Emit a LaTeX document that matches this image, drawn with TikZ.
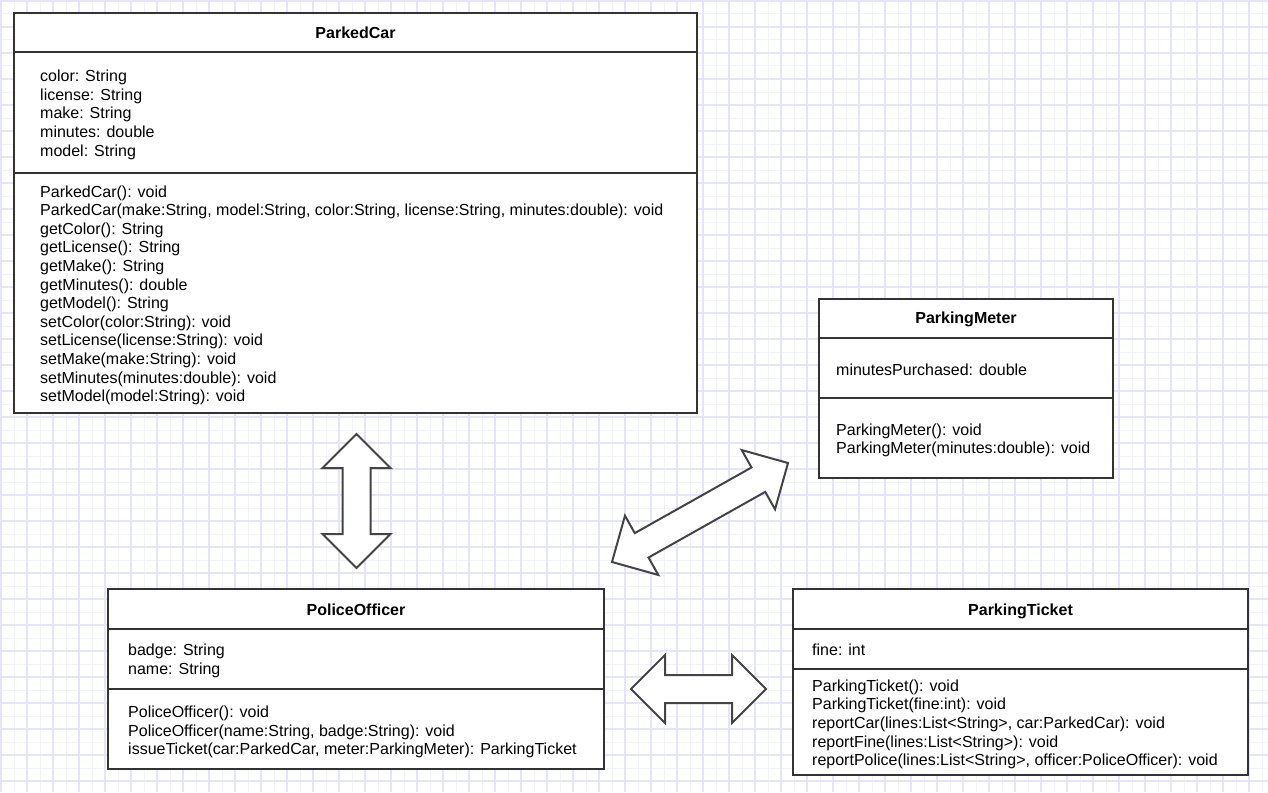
\documentclass[tikz,border=0pt]{standalone}
\usepackage{fontspec}
\setmainfont{Liberation Sans}
\usetikzlibrary{calc}
\definecolor{gridmaj}{RGB}{228,228,252}
\definecolor{gridmin}{RGB}{242,242,253}
\definecolor{boxc}{RGB}{51,51,51}
\definecolor{arrc}{RGB}{68,68,68}
\tikzset{
  clsbox/.style={draw=boxc, line width=2pt, fill=white, anchor=north west, inner sep=0pt, outer sep=0pt},
  sepline/.style={draw=boxc, line width=2pt},
  ttl/.style={font=\bfseries\fontsize{16}{19}\selectfont, anchor=base, inner sep=0pt},
  txt/.style={font=\fontsize{16}{19}\selectfont, anchor=base west, inner sep=0pt},
  blockarrow/.style={draw=arrc, line width=2pt, fill=white, line join=miter},
  majline/.style={draw=gridmaj, line width=1.5pt},
  minline/.style={draw=gridmin, line width=1pt},
}
\newcommand\classlines[5]{%
  \foreach \lineitem [count=\i from 0] in {#5}
    \node[txt] (#1\i) at (#2,#3+\i*#4) {\lineitem};}
\newcommand\blockarrow[2]{%
  \coordinate (#1H) at ($(#1)!34pt!(#2)$);
  \coordinate (#2H) at ($(#2)!34pt!(#1)$);
  \filldraw[blockarrow] (#1) -- ($(#1H)!34pt!90:(#2)$) -- ($(#1H)!14pt!90:(#2)$)
    -- ($(#2H)!14pt!-90:(#1)$) -- ($(#2H)!34pt!-90:(#1)$) -- (#2)
    -- ($(#2H)!34pt!90:(#1)$) -- ($(#2H)!14pt!90:(#1)$)
    -- ($(#1H)!14pt!-90:(#2)$) -- ($(#1H)!34pt!-90:(#2)$) -- cycle;}
\begin{document}
\begin{tikzpicture}[x=1pt,y=-1pt]
\useasboundingbox (0,0) rectangle (1268,792);
\fill[white] (0,0) rectangle (1268,792);
% grid
\foreach \g in {14,40,...,1268} \draw[minline] (\g,0) -- (\g,792);
\foreach \g in {14,40,...,792} \draw[minline] (0,\g) -- (1268,\g);
\foreach \g in {1,27,...,1268} \draw[majline] (\g,0) -- (\g,792);
\foreach \g in {1,27,...,792} \draw[majline] (0,\g) -- (1268,\g);

% ParkedCar
\node[clsbox, minimum width=683pt, minimum height=400pt] (pc) at (14,13) {};
\draw[sepline] (14,52) -- (697,52);
\draw[sepline] (14,173) -- (697,173);
\node[ttl] (pct) at (355.5,39) {ParkedCar};
\classlines{pca}{40}{81.5}{18.7}{color: String, license: String, make: String, minutes: double, model: String}
\classlines{pcm}{40}{197}{18.6}{ParkedCar(): void,
  {ParkedCar(make:String, model:String, color:String, license:String, minutes:double): void},
  getColor(): String, getLicense(): String, getMake(): String, getMinutes(): double,
  getModel(): String, setColor(color:String): void, setLicense(license:String): void,
  setMake(make:String): void, setMinutes(minutes:double): void, setModel(model:String): void}

% ParkingMeter
\node[clsbox, minimum width=294pt, minimum height=179pt] (pm) at (819,299) {};
\draw[sepline] (819,338) -- (1113,338);
\draw[sepline] (819,398) -- (1113,398);
\node[ttl] (pmt) at (966,323.5) {ParkingMeter};
\classlines{pma}{836}{375}{18.7}{minutesPurchased: double}
\classlines{pmm}{836}{435}{18.7}{ParkingMeter(): void, ParkingMeter(minutes:double): void}

% PoliceOfficer
\node[clsbox, minimum width=496pt, minimum height=180pt] (po) at (108,589) {};
\draw[sepline] (108,629) -- (604,629);
\draw[sepline] (108,689) -- (604,689);
\node[ttl] (pot) at (356,615.5) {PoliceOfficer};
\classlines{poa}{128}{655.5}{18.7}{badge: String, name: String}
\classlines{pom}{128}{717.3}{18.7}{PoliceOfficer(): void,
  {PoliceOfficer(name:String, badge:String): void},
  {issueTicket(car:ParkedCar, meter:ParkingMeter): ParkingTicket}}

% ParkingTicket
\node[clsbox, minimum width=455pt, minimum height=186pt] (pt) at (793,589) {};
\draw[sepline] (793,629) -- (1248,629);
\draw[sepline] (793,669) -- (1248,669);
\node[ttl] (ptt) at (1020.5,615.5) {ParkingTicket};
\classlines{pta}{812}{655}{18.7}{fine: int}
\classlines{ptm}{812}{691}{18.7}{ParkingTicket(): void, ParkingTicket(fine:int): void,
  {reportCar(lines:List<String>, car:ParkedCar): void},
  reportFine(lines:List<String>): void,
  {reportPolice(lines:List<String>, officer:PoliceOfficer): void}}

% block arrows
\coordinate (v1) at (356.5,434); \coordinate (v2) at (356.5,568);
\coordinate (h1) at (631,689);   \coordinate (h2) at (766,689);
\coordinate (d1) at (612,562);   \coordinate (d2) at (788,463);
\blockarrow{v1}{v2}
\blockarrow{h1}{h2}
\blockarrow{d1}{d2}
\end{tikzpicture}
\end{document}
